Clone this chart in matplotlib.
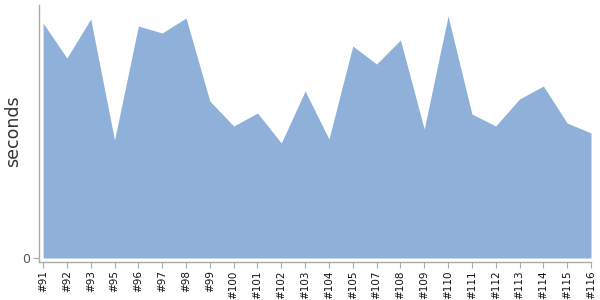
import matplotlib
matplotlib.use("Agg")
import matplotlib.pyplot as plt

# ---- data (arbitrary seconds scale) ----
builds = ["#91", "#92", "#93", "#95", "#96", "#97", "#98", "#99", "#100", "#101",
          "#102", "#103", "#104", "#105", "#107", "#108", "#109", "#110", "#111",
          "#112", "#113", "#114", "#115", "#116"]
seconds = [235, 200, 239, 118, 232, 225, 240, 157, 132, 145,
           115, 167, 119, 212, 194, 218, 129, 242, 144,
           132, 159, 172, 135, 125]

FILL = "#8fb1d9"
AXIS = "#aaaaaa"

fig = plt.figure(figsize=(6, 3), dpi=100)
# axes box in pixels: left 39.5, right 591, top 5, bottom 262
ax = fig.add_axes([39.5 / 600, 1 - 262 / 300, (591 - 39.5) / 600, (262 - 5) / 300])

x = range(len(builds))
ax.fill_between(x, 0, seconds, color=FILL, lw=0)

ax.set_xlim(-0.15, len(builds) - 1)
ax.set_ylim(-4, 253)

ax.set_xticks(list(x))
ax.set_xticklabels(builds, rotation=90, fontsize=7.5, color="#111111")
ax.set_yticks([0])
ax.set_yticklabels(["0"], fontsize=9, color="#555555")
ax.tick_params(axis="x", length=4, width=0.8, color=AXIS, pad=2)
ax.tick_params(axis="y", length=4, width=0.8, color=AXIS, pad=3)

for s in ["top", "right"]:
    ax.spines[s].set_visible(False)
for s in ["left", "bottom"]:
    ax.spines[s].set_color(AXIS)
    ax.spines[s].set_linewidth(1)

# y label placed by hand, the axes sit close to the left edge
fig.text(13 / 600, 1 - 131 / 300, "seconds", rotation=90, fontsize=12.5,
         color="#333333", ha="center", va="center")

fig.savefig("out.png", dpi=100)
